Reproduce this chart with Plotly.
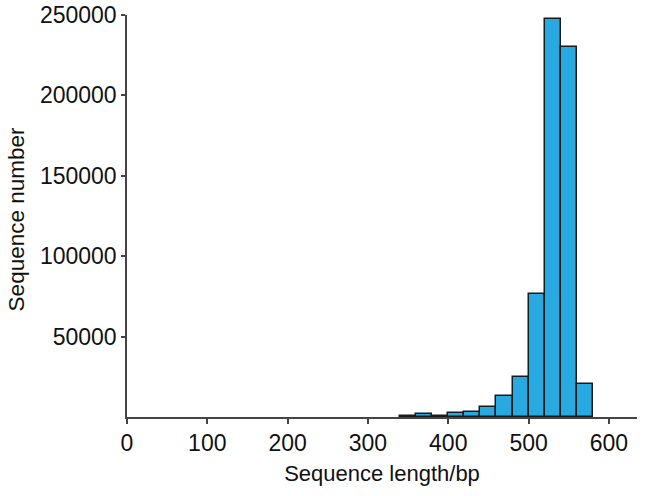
import plotly.graph_objects as go

bin_starts = [340, 360, 380, 400, 420, 440, 460, 480, 500, 520, 540, 560]
bin_width = 20
counts = [800, 1800, 700, 2500, 3300, 6400, 13000, 24900, 76600, 247500, 230300, 20700]

x_ticks = [0, 100, 200, 300, 400, 500, 600]
y_ticks = [50000, 100000, 150000, 200000, 250000]

font_family = "Liberation Sans, Arial, sans-serif"

fig = go.Figure()
fig.add_trace(go.Bar(
    x=bin_starts,
    y=counts,
    width=[bin_width] * len(bin_starts),
    offset=0,
    marker=dict(color="#29a9e1", line=dict(color="#1a1a1a", width=1.5)),
))

fig.update_layout(
    width=646, height=496,
    margin=dict(l=126.5, r=9.3, t=15, b=78.7),
    plot_bgcolor="white", paper_bgcolor="white",
    showlegend=False,
    bargap=0,
    font=dict(family=font_family, size=23, color="#111111"),
    xaxis=dict(
        range=[0, 635], tickvals=x_ticks, ticks="outside", ticklen=5, tickwidth=1.5,
        tickcolor="#444444", showline=True, linecolor="#444444", linewidth=1.5,
        showgrid=False, zeroline=False, automargin=False,
        tickfont=dict(size=23),
        title=dict(text="Sequence length/bp", standoff=10, font=dict(size=22)),
    ),
    yaxis=dict(
        range=[0, 250000], tickvals=y_ticks, tickformat="d", ticks="outside", ticklen=4,
        tickwidth=1.5, tickcolor="#444444", showline=True, linecolor="#444444", linewidth=1.5,
        showgrid=False, zeroline=False, automargin=False,
        tickfont=dict(size=23), ticklabeloverflow="allow",
    ),
    annotations=[dict(
        text="Sequence number", textangle=-90, showarrow=False,
        xref="paper", yref="paper", x=-0.2166, y=0.4904,
        xanchor="center", yanchor="middle",
        font=dict(size=22.5, family=font_family, color="#111111"),
    )],
)

fig.write_html("out.html", config={"displayModeBar": False},
               post_script="document.body.style.margin='0';")
